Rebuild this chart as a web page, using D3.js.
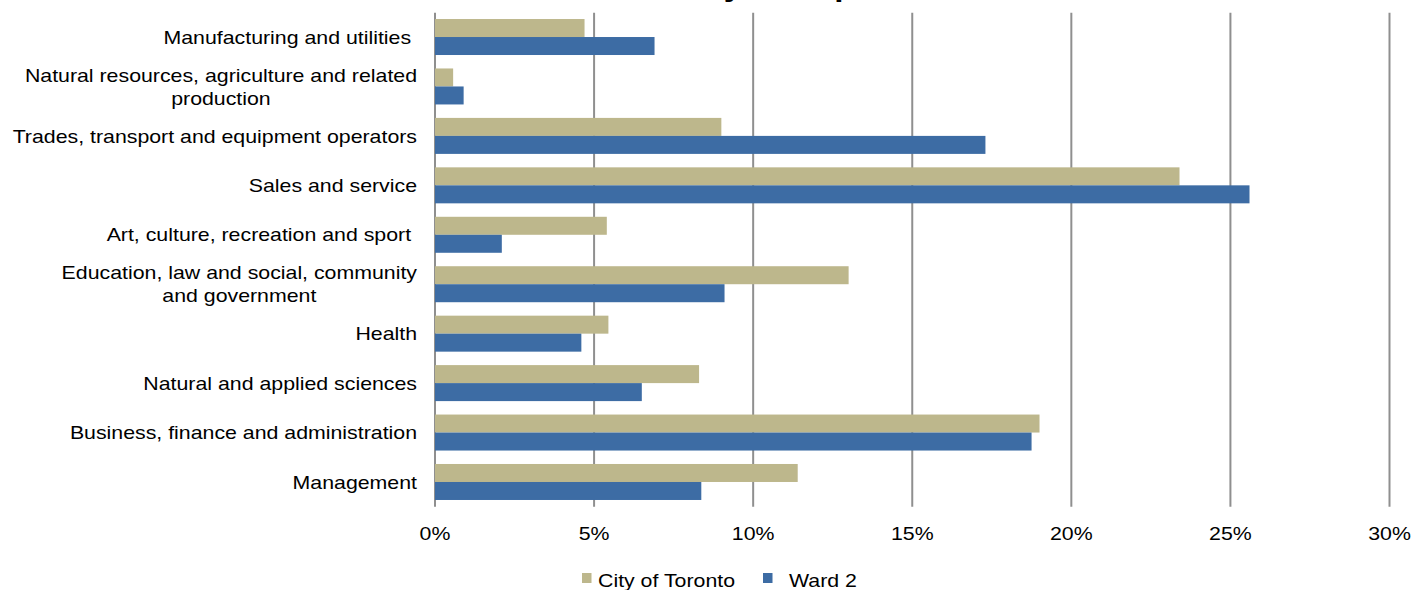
<!DOCTYPE html>
<html lang="en">
<head>
<meta charset="utf-8">
<title>Labour Force by Occupation</title>
<script src="https://cdn.jsdelivr.net/npm/d3@7"></script>
<style>
  body { margin: 0; background: #fff; }
  svg text { font-family: Arial, "Liberation Sans", sans-serif; fill: #000; white-space: pre; }
</style>
</head>
<body>
<svg id="chart" width="1413" height="590"></svg>
<script>
  // categories top to bottom, "\n" marks a wrapped label
  const categories = [
    "Manufacturing and utilities ",
    "Natural resources, agriculture and related\nproduction",
    "Trades, transport and equipment operators",
    "Sales and service",
    "Art, culture, recreation and sport ",
    "Education, law and social, community\nand government",
    "Health",
    "Natural and applied sciences",
    "Business, finance and administration",
    "Management"
  ];
  const seriesNames = ["City of Toronto", "Ward 2"];
  const torontoValues = [4.7, 0.57, 9.0, 23.4, 5.4, 13.0, 5.45, 8.3, 19.0, 11.4];
  const ward2Values = [6.9, 0.9, 17.3, 25.6, 2.1, 9.1, 4.6, 6.5, 18.75, 8.37];
  const tickValues = [0, 5, 10, 15, 20, 25, 30];
  const titleText = "Labour Force by Occupation";

  const colors = ["#bdb78c", "#3d6ca4"];
  const sx = 1.185;     // picture is stretched sideways
  const fs = 18;

  const svg = d3.select("#chart");

  let x = d3.scaleLinear()
    .domain([0, 30])
    .range([435, 1389.5]);

  let y = d3.scaleBand()
    .domain(categories)
    .range([12.3, 506.7])
    .paddingInner(0.272)
    .paddingOuter(0.136);

  let ySub = d3.scaleBand()
    .domain(seriesNames)
    .range([0, y.bandwidth()]);

  function putText(g, px, py, str, size, anchor, weight) {
    return g.append("text")
      .attr("transform", `translate(${px},${py}) scale(${sx},1)`)
      .attr("text-anchor", anchor)
      .style("font-size", size + "px")
      .style("font-weight", weight || "normal")
      .text(str);
  }

  // title, mostly cut off above the picture (as in the original)
  putText(svg, 708, -4, titleText, 28, "middle", "bold");

  // gridlines
  svg.append("g")
    .selectAll("line")
    .data(tickValues)
    .join("line")
    .attr("x1", d => x(d))
    .attr("x2", d => x(d))
    .attr("y1", 12.7)
    .attr("y2", 506.7)
    .style("stroke", "#8f8f8f")
    .style("stroke-width", "2px");

  // bars
  const rows = categories.map((c, i) => ({ cat: c, vals: [torontoValues[i], ward2Values[i]] }));

  svg.append("g")
    .selectAll("g")
    .data(rows)
    .join("g")
    .attr("transform", d => `translate(0,${y(d.cat)})`)
    .selectAll("rect")
    .data(d => d.vals.map((v, j) => ({ name: seriesNames[j], v: v, j: j })))
    .join("rect")
    .attr("x", x(0))
    .attr("y", d => ySub(d.name))
    .attr("width", d => x(d.v) - x(0))
    .attr("height", ySub.bandwidth())
    .style("fill", d => colors[d.j]);

  // category labels
  const labelG = svg.append("g");
  const labelRight = 417;
  const lineH = 23;
  categories.forEach(c => {
    const lines = c.split("\n");
    const mid = y(c) + y.bandwidth() / 2;
    if (lines.length === 1) {
      putText(labelG, labelRight, mid + 0.37 * fs, c, fs, "end");
    } else {
      const tmp = lines.map(l => putText(labelG, 0, 0, l, fs, "start"));
      const widths = tmp.map(t => t.node().getComputedTextLength() * sx);
      tmp.forEach(t => t.remove());
      const cx = labelRight - d3.max(widths) / 2;
      lines.forEach((l, k) => {
        const ly = mid - (lines.length - 1) * lineH / 2 + k * lineH + 0.37 * fs;
        putText(labelG, cx, ly, l, fs, "middle");
      });
    }
  });

  // x tick labels
  const tickG = svg.append("g");
  tickValues.forEach(t => putText(tickG, x(t), 540, t + "%", fs, "middle"));

  // legend
  const legend = svg.append("g");
  const legendItems = [
    { sq: 582, tx: 598 },
    { sq: 763, tx: 789 }
  ];
  seriesNames.forEach((s, i) => {
    legend.append("rect")
      .attr("x", legendItems[i].sq)
      .attr("y", 573)
      .attr("width", 9.5)
      .attr("height", 10)
      .style("fill", colors[i]);
    putText(legend, legendItems[i].tx, 587, s, fs, "start");
  });
</script>
</body>
</html>
